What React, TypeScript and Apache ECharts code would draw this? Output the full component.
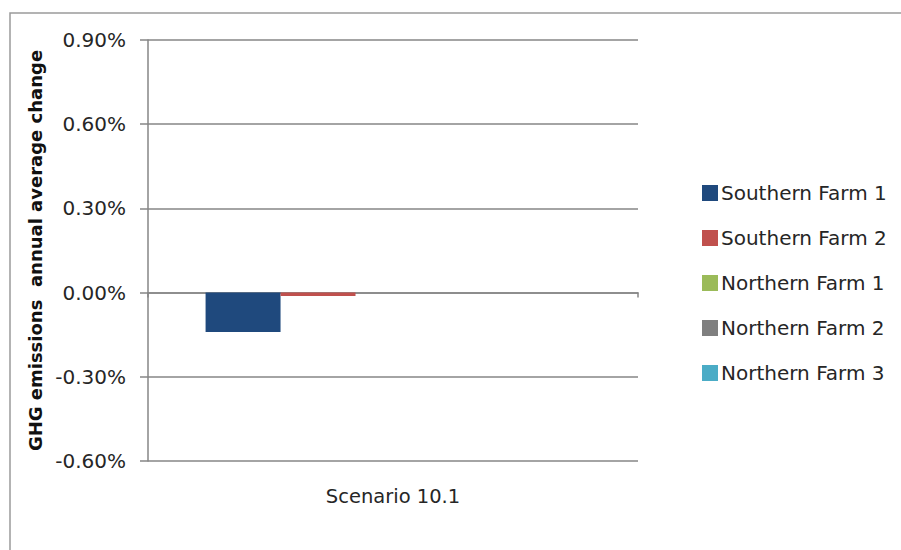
import React, { useEffect, useRef } from "react";
import * as echarts from "echarts";

// Scenario on the category axis
const categories: string[] = ["Scenario 10.1"];

// Farm series names and their annual average change in GHG emissions (%)
const seriesNames: string[] = [
  "Southern Farm 1",
  "Southern Farm 2",
  "Northern Farm 1",
  "Northern Farm 2",
  "Northern Farm 3",
];
const southernFarm1: number[] = [-0.14];
const southernFarm2: number[] = [-0.012];
const northernFarm1: number[] = [0];
const northernFarm2: number[] = [0];
const northernFarm3: number[] = [0];

const seriesColors: string[] = ["#1F497D", "#C0504D", "#9BBB59", "#7F7F7F", "#4BACC6"];

const FONT = "DejaVu Sans";
const GRID_COLOR = "#868686";
const TEXT_COLOR = "#262626";

export default function App() {
  const ref = useRef<HTMLDivElement>(null);

  useEffect(() => {
    if (!ref.current) return;
    const chart = echarts.init(ref.current, undefined, { renderer: "svg" });
    const values = [southernFarm1, southernFarm2, northernFarm1, northernFarm2, northernFarm3];

    chart.setOption({
      animation: false,
      backgroundColor: "#ffffff",
      graphic: [
        {
          type: "rect",
          shape: { x: 10, y: 13, width: 900, height: 560 },
          style: { fill: "none", stroke: "#9a9a9a", lineWidth: 1.5 },
          silent: true,
        },
      ],
      grid: { left: 148, right: 263, top: 40, bottom: 89 },
      legend: {
        orient: "vertical",
        left: 697,
        top: 178,
        icon: "rect",
        itemWidth: 16,
        itemHeight: 16,
        itemGap: 25,
        textStyle: {
          fontFamily: FONT,
          fontSize: 20,
          lineHeight: 16,
          color: TEXT_COLOR,
          padding: [0, 0, 0, -2],
        },
        data: seriesNames,
      },
      xAxis: [
        {
          type: "category",
          data: categories,
          axisLine: { onZero: true, lineStyle: { color: GRID_COLOR, width: 1.5 } },
          axisTick: { show: true, length: 5, lineStyle: { color: GRID_COLOR, width: 1.5 } },
          axisLabel: { show: false },
        },
        {
          type: "category",
          data: categories,
          position: "bottom",
          axisLine: { show: false },
          axisTick: { show: false },
          axisLabel: { margin: 25, fontFamily: FONT, fontSize: 19.5, color: TEXT_COLOR },
        },
      ],
      yAxis: {
        type: "value",
        min: -0.6,
        max: 0.9,
        interval: 0.3,
        name: "GHG emissions  annual average change",
        nameLocation: "middle",
        nameGap: 104,
        nameTextStyle: { fontFamily: FONT, fontSize: 18, fontWeight: "bold", color: "#111" },
        axisLine: { show: true, lineStyle: { color: GRID_COLOR, width: 1.5 } },
        axisTick: { show: true, length: 8, lineStyle: { color: GRID_COLOR, width: 1.5 } },
        splitLine: { show: true, lineStyle: { color: GRID_COLOR, width: 1.5 } },
        axisLabel: {
          margin: 22,
          fontFamily: FONT,
          fontSize: 20,
          color: TEXT_COLOR,
          formatter: (v: number) => `${(Math.abs(v) < 1e-9 ? 0 : v).toFixed(2)}%`,
        },
      },
      series: seriesNames.map((name, i) => ({
        name,
        type: "bar",
        xAxisIndex: 0,
        data: values[i],
        barGap: "0%",
        barCategoryGap: "23.5%",
        itemStyle: { color: seriesColors[i] },
      })),
    });

    return () => chart.dispose();
  }, []);

  return (
    <div
      ref={ref}
      style={{ position: "fixed", left: 0, top: 0, width: 901, height: 550 }}
    />
  );
}
